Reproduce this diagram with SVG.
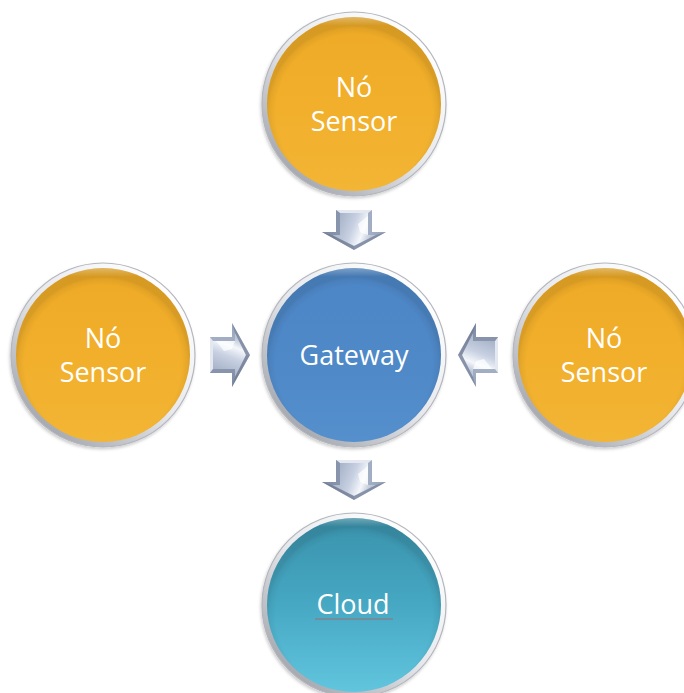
<svg xmlns="http://www.w3.org/2000/svg" width="684" height="693" viewBox="0 0 684 693">
  <style>
    .lbl { font-family: "Open Sans", "Liberation Sans", sans-serif; font-size: 27px; fill: #ffffff; text-anchor: middle; }
    .ring { fill: url(#ringGrad); stroke: #b3b6bc; stroke-width: 1.2; filter: url(#soft); }
    .gloss { fill: url(#edgeShade); }
  </style>
  <defs>
    <!-- silver bezel around each disc -->
    <linearGradient id="ringGrad" x1="0.85" y1="0.1" x2="0.15" y2="0.9">
      <stop offset="0" stop-color="#ffffff"/>
      <stop offset="0.5" stop-color="#e6e8ec"/>
      <stop offset="1" stop-color="#a3a6ad"/>
    </linearGradient>
    <filter id="soft" x="-10%" y="-10%" width="120%" height="120%">
      <feDropShadow dx="-1" dy="2" stdDeviation="1.5" flood-color="#000" flood-opacity="0.2"/>
    </filter>
    <!-- disc fills -->
    <linearGradient id="orangeFill" x1="0" y1="0" x2="0" y2="1">
      <stop offset="0" stop-color="#eeaa26"/>
      <stop offset="0.5" stop-color="#f1af2b"/>
      <stop offset="1" stop-color="#f3b535"/>
    </linearGradient>
    <linearGradient id="blueFill" x1="0" y1="0" x2="0" y2="1">
      <stop offset="0" stop-color="#4d86c6"/>
      <stop offset="0.6" stop-color="#4f89c8"/>
      <stop offset="1" stop-color="#5590cd"/>
    </linearGradient>
    <linearGradient id="tealFill" x1="0" y1="0" x2="0" y2="1">
      <stop offset="0" stop-color="#3a92ac"/>
      <stop offset="0.5" stop-color="#46a8c3"/>
      <stop offset="1" stop-color="#62c5de"/>
    </linearGradient>
    <!-- inner rim shading on the discs -->
    <radialGradient id="edgeShade" cx="0.5" cy="0.55" r="0.5">
      <stop offset="0.9" stop-color="#000" stop-opacity="0"/>
      <stop offset="0.97" stop-color="#000" stop-opacity="0.05"/>
      <stop offset="1" stop-color="#000" stop-opacity="0.1"/>
    </radialGradient>
    <linearGradient id="topHi" x1="0" y1="0" x2="0" y2="1">
      <stop offset="0" stop-color="#fff" stop-opacity="0.3"/>
      <stop offset="0.05" stop-color="#fff" stop-opacity="0"/>
    </linearGradient>
    <!-- bevelled arrow -->
    <linearGradient id="arrowBase" x1="0" y1="0" x2="1" y2="0">
      <stop offset="0" stop-color="#8590aa"/>
      <stop offset="0.45" stop-color="#b1bcd0"/>
      <stop offset="1" stop-color="#96a2b9"/>
    </linearGradient>
    <linearGradient id="arrowFace" x1="0" y1="0" x2="1" y2="0.3">
      <stop offset="0" stop-color="#98a5be"/>
      <stop offset="0.55" stop-color="#c8d1e2"/>
      <stop offset="0.8" stop-color="#f4f7fb"/>
      <stop offset="1" stop-color="#bcc6d8"/>
    </linearGradient>
    <g id="arrowDown">
      <polygon points="-18,-20 18,-20 18,2 32,2 0,20 -32,2 -18,2" fill="url(#arrowBase)"/>
      <polygon points="-14,-17 14,-17 14,5 22,5 0,16 -22,5 -14,5" fill="url(#arrowFace)"/>
      <polygon points="-18,-20 18,-20 14,-17 -14,-17" fill="#e3e8f1"/>
      <polygon points="-18,-20 -14,-17 -14,5 -22,5 -32,2 -18,2" fill="#76839d" opacity="0.55"/>
      <polygon points="0,20 32,2 22,5 0,16" fill="#66728a" opacity="0.5"/>
      <polygon points="0,20 -32,2 -22,5 0,16" fill="#5d6880" opacity="0.55"/>
      <polygon points="4,-6 14,-14 14,5 6,2" fill="#ffffff" opacity="0.7"/>
    </g>
  </defs>

  <rect width="684" height="693" fill="#ffffff"/>

  <!-- connectors -->
  <g id="connectors">
    <use href="#arrowDown" transform="translate(354,230)"/>
    <use href="#arrowDown" transform="translate(354,480)"/>
    <use href="#arrowDown" transform="translate(230,355) rotate(-90)"/>
    <use href="#arrowDown" transform="translate(478,355) rotate(90)"/>
  </g>

  <g id="sensor-top">
    <circle class="ring" cx="354" cy="104" r="92"/>
    <circle cx="354" cy="104" r="87" fill="url(#orangeFill)"/>
    <circle class="gloss" cx="354" cy="104" r="87"/>
    <circle cx="354" cy="104" r="87" fill="url(#topHi)"/>
    <text class="lbl" x="354" y="97">Nó</text>
    <text class="lbl" x="354" y="131">Sensor</text>
  </g>

  <g id="sensor-left">
    <circle class="ring" cx="103" cy="355" r="92"/>
    <circle cx="103" cy="355" r="87" fill="url(#orangeFill)"/>
    <circle class="gloss" cx="103" cy="355" r="87"/>
    <circle cx="103" cy="355" r="87" fill="url(#topHi)"/>
    <text class="lbl" x="103" y="348">Nó</text>
    <text class="lbl" x="103" y="382">Sensor</text>
  </g>

  <g id="sensor-right">
    <circle class="ring" cx="605" cy="355" r="92"/>
    <circle cx="605" cy="355" r="87" fill="url(#orangeFill)"/>
    <circle class="gloss" cx="605" cy="355" r="87"/>
    <circle cx="605" cy="355" r="87" fill="url(#topHi)"/>
    <text class="lbl" x="604" y="348">Nó</text>
    <text class="lbl" x="604" y="382">Sensor</text>
  </g>

  <g id="gateway">
    <circle class="ring" cx="354" cy="355" r="92"/>
    <circle cx="354" cy="355" r="87" fill="url(#blueFill)"/>
    <circle class="gloss" cx="354" cy="355" r="87"/>
    <circle cx="354" cy="355" r="87" fill="url(#topHi)"/>
    <text class="lbl" x="354" y="365">Gateway</text>
  </g>

  <g id="cloud">
    <circle class="ring" cx="354" cy="605" r="92"/>
    <circle cx="354" cy="605" r="87" fill="url(#tealFill)"/>
    <circle class="gloss" cx="354" cy="605" r="87"/>
    <circle cx="354" cy="605" r="87" fill="url(#topHi)"/>
    <text class="lbl" x="353" y="614">Cloud</text>
    <line x1="315" y1="619" x2="393" y2="619" stroke="#7f858d" stroke-width="1.5"/>
  </g>
</svg>
